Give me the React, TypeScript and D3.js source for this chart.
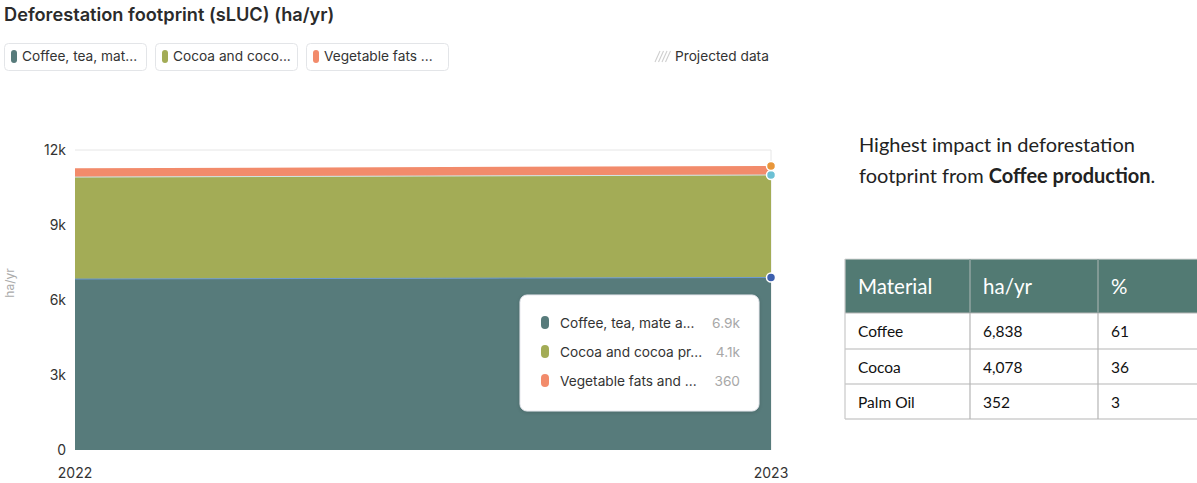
import React from "react";
import * as d3 from "d3";

const years = [2022, 2023];
const seriesNames = ["Coffee, tea, mate a...", "Cocoa and cocoa pr...", "Vegetable fats and ..."];
const legendLabels = ["Coffee, tea, mat...", "Cocoa and coco...", "Vegetable fats ..."];
const coffee = [6838, 6900];
const cocoa = [4078, 4100];
const vegFats = [352, 360];
const tooltipValues = ["6.9k", "4.1k", "360"];
const yTicks = [0, 3000, 6000, 9000, 12000];
const colors = ["#577b7b", "#a3ac56", "#f28b6b"];
const dotColors = ["#3d5fae", "#6cc0d4", "#e8963a"];

const materials = ["Coffee", "Cocoa", "Palm Oil"];
const tableHa = ["6,838", "4,078", "352"];
const tablePct = ["61", "36", "3"];
const tableHeader = ["Material", "ha/yr", "%"];

const FONT = "Inter, 'Noto Sans', sans-serif";
const FONT2 = "Lato, 'Open Sans', sans-serif";

export default function App() {
  const x = d3.scaleLinear().domain([2022, 2023]).range([75, 771]);
  const y = d3.scaleLinear().domain([0, 12000]).range([450, 150]);
  const data = years.map((yr, i) => ({ year: yr, coffee: coffee[i], cocoa: cocoa[i], fats: vegFats[i] }));
  const stack = d3.stack<any>().keys(["coffee", "cocoa", "fats"])(data);
  const area = d3
    .area<any>()
    .x((d) => x(d.data.year))
    .y0((d) => y(d[0]))
    .y1((d) => y(d[1]));
  const line = d3
    .line<any>()
    .x((d) => x(d.data.year))
    .y((d) => y(d[1]));
  const fmt = d3.format("~s");

  const legendBoxes = [4, 155, 306];
  const colX = [845, 970, 1098, 1200];
  const rowY = [259, 313, 349, 384, 419];

  return (
    <svg
      width={1197}
      height={483}
      style={{ position: "absolute", left: 0, top: 0, background: "#fff" }}
    >
      <defs>
        <filter id="sh" x="-10%" y="-10%" width="120%" height="130%">
          <feDropShadow dx="0" dy="1" stdDeviation="2" floodColor="#000" floodOpacity="0.15" />
        </filter>
      </defs>
      <text x={4} y={21} fontFamily={FONT} fontSize={18.2} fontWeight={600} fill="#2b2b2b">
        Deforestation footprint (sLUC) (ha/yr)
      </text>
      {legendLabels.map((l, i) => (
        <g key={l}>
          <rect x={legendBoxes[i] + 0.5} y={43.5} width={142} height={27} rx={4} fill="#fff" stroke="#e3e5e8" />
          <rect x={legendBoxes[i] + 7} y={50} width={6} height={13} rx={3} fill={colors[i]} />
          <text x={legendBoxes[i] + 18} y={61} fontFamily={FONT} fontSize={13.7} fill="#333">
            {l}
          </text>
        </g>
      ))}
      <g stroke="#cfcfcf" strokeWidth={1.1}>
        {[0, 3.5, 7, 10.5].map((o) => (
          <line key={o} x1={655 + o} y1={62} x2={660 + o} y2={51} />
        ))}
      </g>
      <text x={675} y={61} fontFamily={FONT} fontSize={13.7} fill="#333">
        Projected data
      </text>

      {/* grid top */}
      <line x1={x(2022)} x2={x(2023)} y1={y(12000)} y2={y(12000)} stroke="#e6e6e6" />
      <line x1={x(2023)} x2={x(2023)} y1={y(12000)} y2={y(0)} stroke="#e6e6e6" />
      {stack.map((s, i) => (
        <path key={i} d={area(s) || ""} fill={colors[i]} />
      ))}
      <path d={line(stack[0]) || ""} fill="none" stroke="#6c9ad0" strokeWidth={1} />
      <path d={line(stack[1]) || ""} fill="none" stroke="#cfe6e6" strokeWidth={1} />
      {stack.map((s, i) => (
        <circle
          key={"d" + i}
          cx={x(2023)}
          cy={y(s[1][1])}
          r={4.5}
          fill={dotColors[i]}
          stroke="#fff"
          strokeWidth={1.5}
        />
      ))}
      {yTicks.map((t) => (
        <text
          key={t}
          x={66}
          y={y(t) + 5}
          textAnchor="end"
          fontFamily={FONT}
          fontSize={14}
          fill="#333"
        >
          {fmt(t)}
        </text>
      ))}
      <text
        transform={`translate(14,283) rotate(-90)`}
        textAnchor="middle"
        fontFamily={FONT}
        fontSize={12}
        fill="#aaa"
      >
        ha/yr
      </text>
      {years.map((yr) => (
        <text key={yr} x={x(yr)} y={478} textAnchor="middle" fontFamily={FONT} fontSize={14} fill="#333">
          {yr}
        </text>
      ))}

      {/* tooltip */}
      <rect x={520} y={295} width={239} height={116} rx={7} fill="#fff" filter="url(#sh)" stroke="#e8e8ee" />
      {seriesNames.map((n, i) => (
        <g key={n}>
          <rect x={541} y={316 + i * 29} width={8} height={13} rx={4} fill={colors[i]} />
          <text x={560} y={328 + i * 29} fontFamily={FONT} fontSize={13.7} fill="#333">
            {n}
          </text>
          <text x={740} y={328 + i * 29} textAnchor="end" fontFamily={FONT} fontSize={13.7} fill="#a8a8a8">
            {tooltipValues[i]}
          </text>
        </g>
      ))}

      {/* right text */}
      <text x={859} y={152} fontFamily={FONT2} fontSize={20} fill="#222">
        Highest impact in deforestation
      </text>
      <text x={859} y={183} fontFamily={FONT2} fontSize={20} fill="#222">
        footprint from <tspan fontWeight={700}>Coffee production</tspan>.
      </text>

      {/* table */}
      <rect x={colX[0]} y={rowY[0]} width={1197 - colX[0]} height={rowY[1] - rowY[0]} fill="#527a73" />
      {tableHeader.map((h, i) => (
        <text key={h} x={colX[i] + 13} y={294} fontFamily={FONT2} fontSize={20.5} fill="#fff">
          {h}
        </text>
      ))}
      {materials.map((m, r) => (
        <g key={m}>
          {[m, tableHa[r], tablePct[r]].map((v, c) => (
            <text key={c} x={colX[c] + 13} y={rowY[r + 1] + 24} fontFamily={FONT2} fontSize={15.5} fill="#111">
              {v}
            </text>
          ))}
        </g>
      ))}
      <g stroke="#b5b5b5" strokeWidth={1.2} fill="none">
        {rowY.map((ry, i) => (
          <line key={"h" + i} x1={colX[0]} x2={1197} y1={ry} y2={ry} stroke={i === 0 ? "#dcdcdc" : "#b5b5b5"} />
        ))}
        {colX.slice(0, 3).map((cx, i) => (
          <line key={"v" + i} x1={cx} x2={cx} y1={rowY[0]} y2={rowY[4]} stroke={i === 0 ? "#c8c8c8" : "#b5b5b5"} />
        ))}
      </g>
      <g stroke="#7a9893" strokeWidth={1.2}>
        {colX.slice(1, 3).map((cx, i) => (
          <line key={"hv" + i} x1={cx} x2={cx} y1={rowY[0]} y2={rowY[1]} />
        ))}
      </g>
    </svg>
  );
}
